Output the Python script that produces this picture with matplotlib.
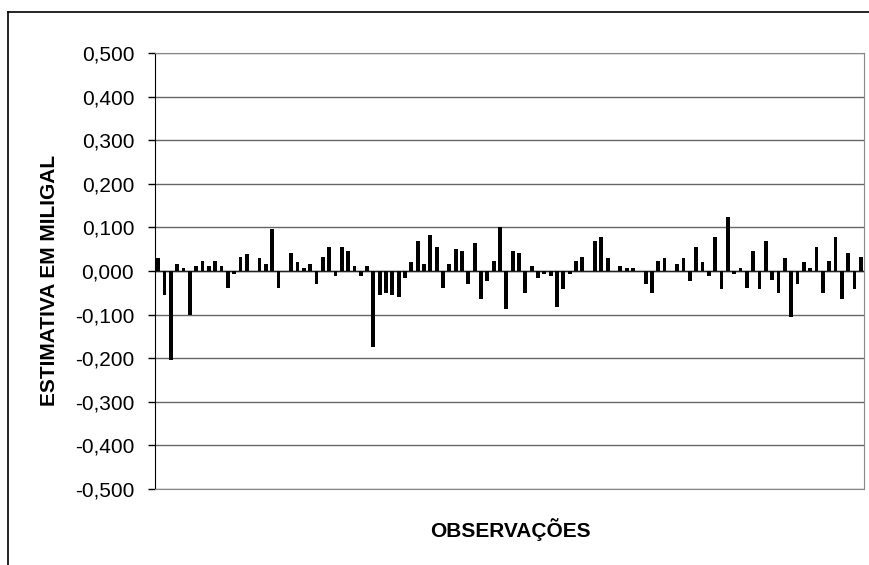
import matplotlib.pyplot as plt
from matplotlib.lines import Line2D

plt.rcParams['font.family'] = ['Liberation Sans', 'DejaVu Sans']

# estimativas (mGal), 112 observacoes
valores = [
    0.029, -0.055, -0.204, 0.015, 0.006, -0.100, 0.011, 0.024, 0.011, 0.024,
    0.011, -0.038, -0.006, 0.033, 0.038, 0.000, 0.029, 0.015, 0.097, -0.038,
    0.000, 0.042, 0.020, 0.006, 0.015, -0.029, 0.033, 0.056, -0.011, 0.056,
    0.047, 0.011, -0.011, 0.011, -0.174, -0.056, -0.051, -0.056, -0.060, -0.015,
    0.020, 0.069, 0.015, 0.083, 0.056, -0.038, 0.015, 0.051, 0.047, -0.029,
    0.065, -0.065, -0.024, 0.024, 0.101, -0.088, 0.047, 0.042, -0.051, 0.011,
    -0.015, -0.006, -0.011, -0.083, -0.042, -0.006, 0.024, 0.033, 0.000, 0.069,
    0.078, 0.029, 0.000, 0.011, 0.006, 0.006, 0.000, -0.029, -0.051, 0.024,
    0.029, 0.000, 0.015, 0.029, -0.024, 0.056, 0.020, -0.011, 0.078, -0.042,
    0.124, -0.006, 0.006, -0.038, 0.047, -0.042, 0.069, -0.020, -0.051, 0.029,
    -0.106, -0.029, 0.020, 0.006, 0.056, -0.051, 0.024, 0.078, -0.065, 0.042,
    -0.042, 0.033,
]
observacoes = list(range(len(valores)))
yticks = [-0.5, -0.4, -0.3, -0.2, -0.1, 0.0, 0.1, 0.2, 0.3, 0.4, 0.5]
ytick_labels = ['-0,500', '-0,400', '-0,300', '-0,200', '-0,100', '0,000',
                '0,100', '0,200', '0,300', '0,400', '0,500']

W, H = 869, 565
fig = plt.figure(figsize=(W / 100, H / 100), dpi=100)
ax = fig.add_axes([155 / W, 1 - 489 / H, 709 / W, 436 / H])

ax.bar(observacoes, valores, width=0.6, color='black', zorder=3)
ax.axhline(0, color='#222222', lw=1, zorder=2)

ax.set_xlim(-0.5, len(valores) - 0.5)
ax.set_ylim(-0.5, 0.5)
ax.set_yticks(yticks)
ax.set_yticklabels(ytick_labels, fontsize=15)
ax.set_xticks([])
ax.grid(axis='y', color='#666666', lw=1, zorder=1)
ax.tick_params(axis='y', direction='out', length=5, width=1, pad=10, color='black')

for s in ['top', 'right', 'bottom']:
    ax.spines[s].set_color('#888888')
ax.spines['left'].set_color('black')

fig.text(510 / W, 1 - 530 / H, 'OBSERVAÇÕES', fontsize=15, fontweight='bold',
         ha='center', va='center')
fig.text(50 / W, 1 - 280 / H, 'ESTIMATIVA EM MILIGAL', fontsize=15,
         fontweight='bold', rotation=90, ha='center', va='center')

# moldura externa do grafico (cortada na direita e embaixo)
fig.add_artist(Line2D([8 / W, 8 / W], [0, 1 - 12 / H], color='black', lw=1.2))
fig.add_artist(Line2D([8 / W, 1], [1 - 12 / H, 1 - 12 / H], color='black', lw=1.2))

fig.savefig('out.png', dpi=100)
